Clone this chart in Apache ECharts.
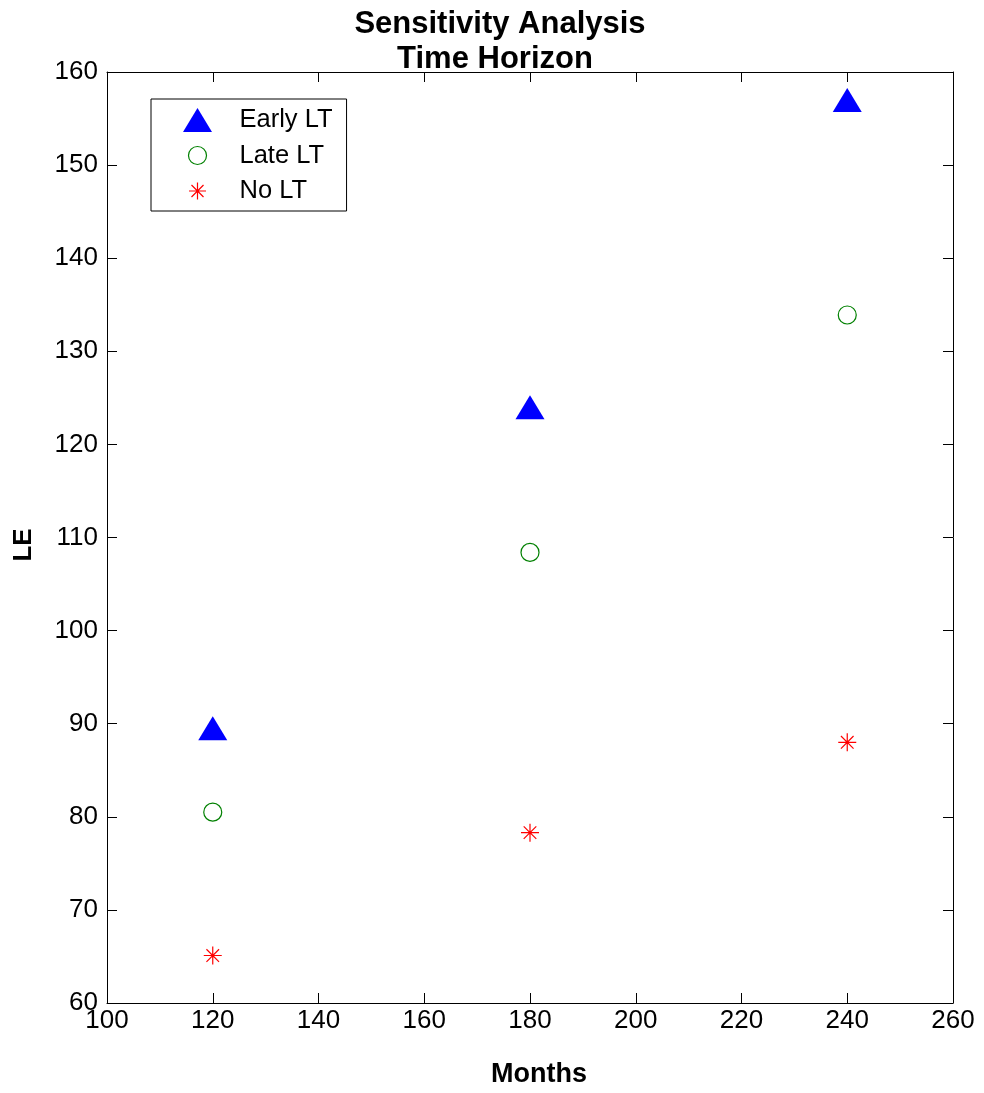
<!DOCTYPE html>
<html>
<head>
<meta charset="utf-8">
<script src="https://cdn.jsdelivr.net/npm/echarts@6/dist/echarts.min.js"></script>
<style>
html,body{margin:0;padding:0;background:#fff;}
#chart{width:984px;height:1093px;}
</style>
</head>
<body>
<div id="chart"></div>
<script>
// ---- data ----
const seriesNames = ['Early LT', 'Late LT', 'No LT'];
const months = [120, 180, 240];
const earlyLT = [89.5, 124.0, 157.0];
const lateLT = [80.5, 108.4, 133.9];
const noLT = [65.1, 78.3, 88.0];
const xTicks = [100, 120, 140, 160, 180, 200, 220, 240, 260];
const yTicks = [60, 70, 80, 90, 100, 110, 120, 130, 140, 150, 160];
const titleLines = ['Sensitivity Analysis', 'Time Horizon'];
const xName = 'Months';
const yName = 'LE';

const FONT = '"Liberation Sans", Arial, sans-serif';
const starPath = 'path://M0,-1L0,1M-1,0L1,0M-0.7,-0.7L0.7,0.7M-0.7,0.7L0.7,-0.7';
const legTri = 'path://M0,24L14.5,0L29,24Z';
const legCircle = 'path://M0,0M24,24M21,12A9,9,0,1,1,3,12A9,9,0,1,1,21,12Z';
const legStar = 'path://M0,0M24,24M12,3.5L12,20.5M3.5,12L20.5,12M6,6L18,18M6,18L18,6';

function pairs(xs, ys) { return xs.map((x, i) => [x, ys[i]]); }

const axisCommon = {
  type: 'value',
  axisLine: { show: true, onZero: false, lineStyle: { color: '#000', width: 1 } },
  axisTick: { show: true, inside: true, length: 10, lineStyle: { color: '#000', width: 1 } },
  splitLine: { show: false }
};

const chart = echarts.init(document.getElementById('chart'), null, { renderer: 'canvas' });
chart.setOption({
  backgroundColor: '#fff',
  animation: false,
  textStyle: { fontFamily: FONT },
  graphic: [
    { type: 'text', x: 500, y: 24, style: { text: titleLines[0], fontFamily: FONT, fontWeight: 'bold', fontSize: 31, fill: '#000', align: 'center', verticalAlign: 'middle' } },
    { type: 'text', x: 495, y: 59, style: { text: titleLines[1], fontFamily: FONT, fontWeight: 'bold', fontSize: 31, fill: '#000', align: 'center', verticalAlign: 'middle' } }
  ],
  grid: { left: 107, right: 31, top: 72, bottom: 88, containLabel: false },
  xAxis: [
    Object.assign({}, axisCommon, {
      position: 'bottom', min: xTicks[0], max: xTicks[xTicks.length - 1], interval: 20,
      axisLabel: { show: true, color: '#000', fontSize: 26, fontFamily: FONT, margin: 5 },
      name: xName, nameLocation: 'middle', nameGap: 58,
      nameTextStyle: { color: '#000', fontSize: 27, fontWeight: 'bold', fontFamily: FONT, padding: [0, 0, 0, 18] }
    }),
    Object.assign({}, axisCommon, {
      position: 'top', min: xTicks[0], max: xTicks[xTicks.length - 1], interval: 20,
      axisLabel: { show: false }
    })
  ],
  yAxis: [
    Object.assign({}, axisCommon, {
      position: 'left', min: yTicks[0], max: yTicks[yTicks.length - 1], interval: 10,
      axisLabel: { show: true, color: '#000', fontSize: 26, fontFamily: FONT, margin: 9 },
      name: yName, nameLocation: 'middle', nameGap: 70, nameRotate: 90,
      nameTextStyle: { color: '#000', fontSize: 26, fontWeight: 'bold', fontFamily: FONT, padding: [0, 15, 0, 0] }
    }),
    Object.assign({}, axisCommon, {
      position: 'right', min: yTicks[0], max: yTicks[yTicks.length - 1], interval: 10,
      axisLabel: { show: false }
    })
  ],
  legend: {
    orient: 'vertical', left: 151, top: 99,
    padding: [8, 14, 7, 32],
    itemWidth: 74, itemHeight: 24, itemGap: 9.5,
    symbolKeepAspect: true,
    borderColor: '#000', borderWidth: 1, backgroundColor: '#fff',
    textStyle: { color: '#000', fontSize: 25.5, fontFamily: FONT, lineHeight: 24 },
    data: [
      { name: seriesNames[0], icon: legTri, itemStyle: { color: '#0000ff', borderWidth: 0 } },
      { name: seriesNames[1], icon: legCircle, itemStyle: { color: 'rgba(0,0,0,0)', borderColor: '#008000', borderWidth: 1.2 } },
      { name: seriesNames[2], icon: legStar, itemStyle: { color: 'rgba(0,0,0,0)', borderColor: '#ff0000', borderWidth: 1.2 } }
    ]
  },
  series: [
    {
      name: seriesNames[0], type: 'scatter', xAxisIndex: 0, yAxisIndex: 0,
      symbol: 'triangle', symbolSize: [29, 24],
      itemStyle: { color: '#0000ff', opacity: 1 },
      data: pairs(months, earlyLT)
    },
    {
      name: seriesNames[1], type: 'scatter', xAxisIndex: 0, yAxisIndex: 0,
      symbol: 'circle', symbolSize: 18,
      itemStyle: { color: 'rgba(0,0,0,0)', borderColor: '#008000', borderWidth: 1.2, opacity: 1 },
      data: pairs(months, lateLT)
    },
    {
      name: seriesNames[2], type: 'scatter', xAxisIndex: 0, yAxisIndex: 0,
      symbol: starPath, symbolSize: 18,
      itemStyle: { color: '#ff0000', borderColor: '#ff0000', borderWidth: 1.2, opacity: 1 },
      data: pairs(months, noLT)
    }
  ]
});
</script>
</body>
</html>
